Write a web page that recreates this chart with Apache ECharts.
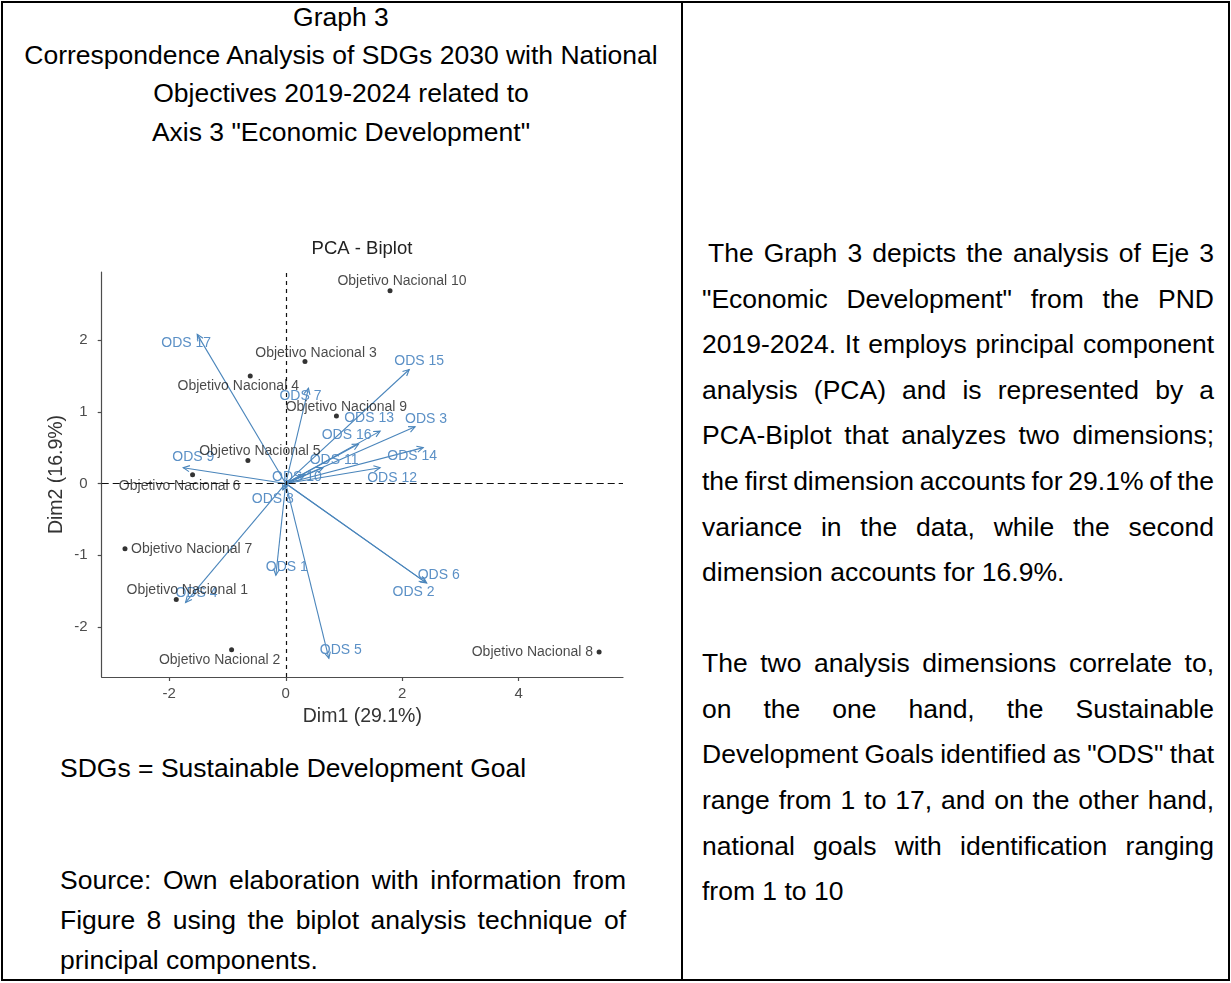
<!DOCTYPE html>
<html>
<head>
<meta charset="utf-8">
<title>Graph 3 - PCA Biplot</title>
<script src="https://cdn.jsdelivr.net/npm/echarts@6/dist/echarts.min.js"></script>
<style>
  html, body { margin: 0; padding: 0; background: #fff; }
  body { width: 1231px; height: 983px; position: relative; overflow: hidden;
         font-family: "Liberation Sans", Arial, sans-serif; color: #000; }
  .frame { position: absolute; left: 1px; top: 1px; width: 1225px; height: 976px; border: 2px solid #000; }
  .divider { position: absolute; left: 681px; top: 1px; width: 2px; height: 980px; background: #000; }
  .ln { position: absolute; font-size: 26.5px; height: 40px; line-height: 40px; white-space: nowrap; }
  .c { text-align: center; }
  .j { text-align: justify; text-align-last: justify; }
  #chart { position: absolute; left: 0; top: 0; width: 1231px; height: 983px; }
</style>
</head>
<body>
<div class="frame"></div>
<div class="divider"></div>

<!-- left cell: caption -->
<div class="ln c" style="left:3px;width:676px;top:-3px;">Graph 3</div>
<div class="ln c" style="left:3px;width:676px;top:35px;">Correspondence Analysis of SDGs 2030 with National</div>
<div class="ln c" style="left:3px;width:676px;top:73px;">Objectives 2019-2024 related to</div>
<div class="ln c" style="left:3px;width:676px;top:112px;">Axis 3 "Economic Development"</div>

<!-- left cell: notes -->
<div class="ln" style="left:60px;top:748px;">SDGs = Sustainable Development Goal</div>
<div class="ln j" style="left:60px;width:566px;top:860px;">Source: Own elaboration with information from</div>
<div class="ln j" style="left:60px;width:566px;top:900px;">Figure 8 using the biplot analysis technique of</div>
<div class="ln" style="left:60px;top:940px;">principal components.</div>

<!-- right cell: commentary -->
<div class="ln j" style="left:708px;width:506px;top:233px;">The Graph 3 depicts the analysis of Eje 3</div>
<div class="ln j" style="left:702px;width:512px;top:279px;">"Economic Development" from the PND</div>
<div class="ln j" style="left:702px;width:512px;top:324px;">2019-2024. It employs principal component</div>
<div class="ln j" style="left:702px;width:512px;top:370px;">analysis (PCA) and is represented by a</div>
<div class="ln j" style="left:702px;width:512px;top:415px;">PCA-Biplot that analyzes two dimensions;</div>
<div class="ln j" style="left:702px;width:512px;top:461px;word-spacing:-2.5px;">the first dimension accounts for 29.1% of the</div>
<div class="ln j" style="left:702px;width:512px;top:507px;">variance in the data, while the second</div>
<div class="ln" style="left:702px;top:552px;">dimension accounts for 16.9%.</div>
<div class="ln j" style="left:702px;width:512px;top:643px;">The two analysis dimensions correlate to,</div>
<div class="ln j" style="left:702px;width:512px;top:689px;">on the one hand, the Sustainable</div>
<div class="ln j" style="left:702px;width:512px;top:734px;word-spacing:-1.5px;">Development Goals identified as "ODS" that</div>
<div class="ln j" style="left:702px;width:512px;top:780px;">range from 1 to 17, and on the other hand,</div>
<div class="ln j" style="left:702px;width:512px;top:826px;">national goals with identification ranging</div>
<div class="ln" style="left:702px;top:871px;">from 1 to 10</div>

<div id="chart"></div>

<script>
// Variables (SDGs): coordinates on Dim1 / Dim2
const odsNames = ['ODS 1', 'ODS 2', 'ODS 3', 'ODS 4', 'ODS 5', 'ODS 6', 'ODS 7', 'ODS 8', 'ODS 9',
                  'ODS 10', 'ODS 11', 'ODS 12', 'ODS 13', 'ODS 14', 'ODS 15', 'ODS 16', 'ODS 17'];
const odsDim1 = [-0.17, 2.40, 2.22, -1.72, 0.74, 2.42, 0.39, -0.05, -1.76,
                 0.33, 0.64, 1.62, 1.62, 2.36, 2.12, 1.25, -1.52];
const odsDim2 = [-1.28, -1.38, 0.79, -1.66, -2.44, -1.39, 1.33, -0.09, 0.22,
                 0.12, 0.22, 0.22, 0.73, 0.50, 1.59, 0.55, 2.08];

// Individuals (national objectives): coordinates on Dim1 / Dim2
const objNames = ['Objetivo Nacional 1', 'Objetivo Nacional 2', 'Objetivo Nacional 3', 'Objetivo Nacional 4',
                  'Objetivo Nacional 5', 'Objetivo Nacional 6', 'Objetivo Nacional 7', 'Objetivo Nacional 8',
                  'Objetivo Nacional 9', 'Objetivo Nacional 10'];
const objDim1 = [-1.88, -0.93, 0.33, -0.61, -0.65, -1.60, -2.76, 5.38, 0.87, 1.79];
const objDim2 = [-1.62, -2.32, 1.70, 1.50, 0.32, 0.12, -0.91, -2.35, 0.94, 2.69];

// Axis tick values
const xTicks = [-2, 0, 2, 4];
const yTicks = [-2, -1, 0, 1, 2];

// Label nudges in pixels [dx, dy, align]
const odsLabelShift = [
  [11, -8, 'center'], [-12, 10, 'center'], [11, -8, 'center'], [11, -9, 'center'], [12, -8, 'center'],
  [12, -8, 'center'], [-8, 8.5, 'center'], [-10, 9, 'center'], [10, -11, 'center'], [-8, 2, 'center'],
  [11, -8, 'center'], [12, 10, 'center'], [-11, -13, 'center'], [-11, 9, 'center'], [10, -8, 'center'],
  [-12, -9, 'center'], [-11, 9, 'center']
];
const objLabelShift = [
  [11, -9, 'center'], [-12, 10, 'center'], [11, -8.5, 'center'], [-12, 10, 'center'], [12, -9, 'center'],
  [-13, 11, 'center'], [6, 0, 'left'], [-6, 0, 'right'], [10, -9, 'center'], [12, -9, 'center']
];

const FONT = '"Liberation Sans", Arial, sans-serif';
const arrowColor = '#4a85bb';
const odsTextColor = '#5b90c6';
const axisGray = '#4d4d4d';

const chart = echarts.init(document.getElementById('chart'), null, { renderer: 'canvas' });

const odsData = odsNames.map((n, i) => [odsDim1[i], odsDim2[i]]);
const objData = objNames.map((n, i) => ({
  name: n,
  value: [objDim1[i], objDim2[i]],
  label: { offset: [objLabelShift[i][0], objLabelShift[i][1]], align: objLabelShift[i][2] }
}));

// Each SDG is drawn as a vector from the origin with an open arrow head and its name
function renderArrow(params, api) {
  const i = params.dataIndex;
  const o = api.coord([0, 0]);
  const p = api.coord([api.value(0), api.value(1)]);
  const ang = Math.atan2(p[1] - o[1], p[0] - o[0]);
  const L = 7, a = Math.PI / 7;
  const h1 = [p[0] - L * Math.cos(ang - a), p[1] - L * Math.sin(ang - a)];
  const h2 = [p[0] - L * Math.cos(ang + a), p[1] - L * Math.sin(ang + a)];
  const sh = odsLabelShift[i];
  return {
    type: 'group',
    children: [
      { type: 'line', shape: { x1: o[0], y1: o[1], x2: p[0], y2: p[1] },
        style: { stroke: arrowColor, lineWidth: 1.1 } },
      { type: 'polyline', shape: { points: [h1, p, h2] },
        style: { stroke: arrowColor, lineWidth: 1.1, fill: null } },
      { type: 'text', x: p[0] + sh[0], y: p[1] + sh[1],
        style: { text: odsNames[i], fill: odsTextColor, font: '14px ' + FONT,
                 align: sh[2], verticalAlign: 'middle' } }
    ]
  };
}

chart.setOption({
  animation: false,
  backgroundColor: 'transparent',
  textStyle: { fontFamily: FONT },
  graphic: [{
    type: 'text', x: 362, y: 249,
    style: { text: 'PCA - Biplot', fill: '#222', font: '18.5px ' + FONT, align: 'center', verticalAlign: 'middle' }
  }],
  grid: { left: 101.7, top: 272, width: 521.3, height: 405, containLabel: false },
  xAxis: {
    type: 'value', min: -3.16, max: 5.79, position: 'bottom',
    axisLine: { show: true, onZero: false, lineStyle: { color: axisGray, width: 1.2 } },
    axisTick: { show: true, length: 4, customValues: xTicks, lineStyle: { color: axisGray, width: 1.2 } },
    axisLabel: { customValues: xTicks, color: axisGray, fontSize: 15, margin: 9, fontFamily: FONT },
    splitLine: { show: false },
    name: 'Dim1 (29.1%)', nameLocation: 'middle', nameGap: 30,
    nameTextStyle: { fontSize: 19.5, color: '#333', fontFamily: FONT }
  },
  yAxis: {
    type: 'value', min: -2.70, max: 2.95, position: 'left',
    axisLine: { show: true, onZero: false, lineStyle: { color: axisGray, width: 1.2 } },
    axisTick: { show: true, length: 4, customValues: yTicks, lineStyle: { color: axisGray, width: 1.2 } },
    axisLabel: { customValues: yTicks, color: axisGray, fontSize: 15, margin: 14, fontFamily: FONT },
    splitLine: { show: false },
    name: 'Dim2 (16.9%)', nameLocation: 'middle', nameGap: 35,
    nameTextStyle: { fontSize: 19.5, color: '#333', fontFamily: FONT }
  },
  series: [
    {
      name: 'Objetivos', type: 'scatter', data: objData, symbol: 'circle', symbolSize: 5,
      itemStyle: { color: '#000' }, z: 3,
      label: { show: true, position: 'inside', formatter: '{b}', color: '#1a1a1a', fontSize: 14,
               fontFamily: FONT, verticalAlign: 'middle' },
      markLine: {
        silent: true, symbol: 'none', label: { show: false },
        data: [
          { xAxis: 0, lineStyle: { color: '#111', width: 1.2, type: [4, 4] } },
          { yAxis: 0, lineStyle: { color: '#111', width: 1.2, type: [7, 4] } }
        ]
      }
    },
    {
      name: 'ODS', type: 'custom', data: odsData, renderItem: renderArrow, z: 2
    }
  ]
});
</script>
</body>
</html>
